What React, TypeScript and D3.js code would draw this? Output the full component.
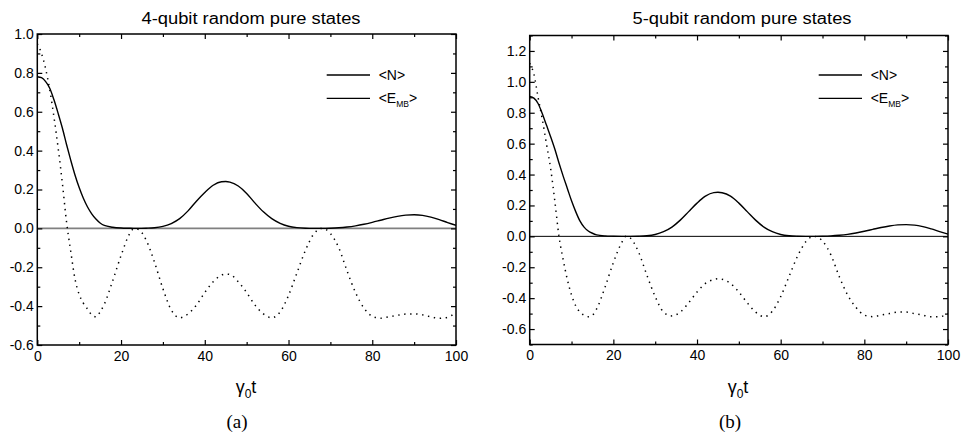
import React, { useEffect, useRef } from 'react';
import * as d3 from 'd3';

// time grid shared by all curves (gamma_0 t)
const times = [0, 1, 2, 3, 4, 5, 6, 7, 8, 9, 10, 11, 12, 13, 14, 15, 16, 18, 20, 22, 23, 24, 26, 28, 30, 32, 34, 36, 38, 40, 42, 44, 45, 46, 48, 50, 52, 54, 56, 58, 60, 62, 64, 66, 68, 70, 72, 74, 76, 78, 80, 82, 84, 86, 88, 90, 92, 94, 96, 98, 100];

// 4-qubit panel
const negativity4 = [0.78, 0.775, 0.755, 0.72, 0.66, 0.59, 0.515, 0.43, 0.35, 0.275, 0.21, 0.155, 0.11, 0.075, 0.048, 0.028, 0.015, 0.006, 0.002, 0.0005, 0, 0, 0.001, 0.003, 0.01, 0.025, 0.05, 0.09, 0.14, 0.185, 0.222, 0.24, 0.241, 0.238, 0.218, 0.18, 0.13, 0.085, 0.05, 0.026, 0.011, 0.004, 0.001, 0, 0, 0.001, 0.003, 0.007, 0.013, 0.021, 0.031, 0.042, 0.053, 0.062, 0.068, 0.07, 0.067, 0.058, 0.045, 0.03, 0.016];
const emb4 = [0.95, 0.9, 0.82, 0.71, 0.57, 0.41, 0.23, 0.03, -0.12, -0.26, -0.34, -0.385, -0.415, -0.445, -0.455, -0.43, -0.39, -0.27, -0.14, -0.03, -0.003, -0.005, -0.06, -0.175, -0.31, -0.42, -0.46, -0.44, -0.395, -0.33, -0.275, -0.24, -0.235, -0.237, -0.275, -0.33, -0.395, -0.44, -0.46, -0.43, -0.345, -0.23, -0.115, -0.03, 0, -0.026, -0.1, -0.22, -0.33, -0.41, -0.452, -0.462, -0.455, -0.447, -0.441, -0.44, -0.445, -0.455, -0.463, -0.458, -0.43];

// 5-qubit panel
const negativity5 = [0.905, 0.895, 0.86, 0.795, 0.72, 0.645, 0.565, 0.475, 0.39, 0.31, 0.23, 0.16, 0.1, 0.06, 0.035, 0.02, 0.01, 0.003, 0.001, 0, 0, 0, 0.001, 0.004, 0.012, 0.03, 0.06, 0.105, 0.16, 0.215, 0.26, 0.283, 0.285, 0.282, 0.26, 0.215, 0.16, 0.105, 0.06, 0.03, 0.012, 0.004, 0.001, 0, 0, 0.001, 0.003, 0.007, 0.013, 0.022, 0.033, 0.045, 0.057, 0.067, 0.074, 0.076, 0.073, 0.063, 0.048, 0.031, 0.015];
const emb5 = [1.12, 1.05, 0.9, 0.76, 0.6, 0.44, 0.23, 0.0, -0.15, -0.28, -0.38, -0.45, -0.49, -0.51, -0.52, -0.51, -0.47, -0.33, -0.17, -0.04, 0, -0.01, -0.1, -0.25, -0.39, -0.49, -0.515, -0.49, -0.43, -0.36, -0.305, -0.28, -0.275, -0.278, -0.305, -0.36, -0.43, -0.49, -0.52, -0.485, -0.39, -0.26, -0.13, -0.035, 0, -0.03, -0.12, -0.26, -0.38, -0.46, -0.51, -0.52, -0.51, -0.5, -0.49, -0.49, -0.5, -0.51, -0.52, -0.52, -0.5];

const xMajor = [0, 20, 40, 60, 80, 100];
const xMinor = [10, 30, 50, 70, 90];
const yMajor4 = [-0.6, -0.4, -0.2, 0, 0.2, 0.4, 0.6, 0.8, 1.0];
const yMinor4 = [-0.5, -0.3, -0.1, 0.1, 0.3, 0.5, 0.7, 0.9];
const yMajor5 = [-0.6, -0.4, -0.2, 0, 0.2, 0.4, 0.6, 0.8, 1.0, 1.2];
const yMinor5 = [-0.7, -0.5, -0.3, -0.1, 0.1, 0.3, 0.5, 0.7, 0.9, 1.1, 1.3];

const titles = ['4-qubit random pure states', '5-qubit random pure states'];
const captions = ['(a)', '(b)'];

const SANS = '"Liberation Sans", Arial, sans-serif';

const App = () => {
    const svgRef = useRef<SVGSVGElement>(null);

    useEffect(() => {
        const svg = d3.select(svgRef.current);
        svg.selectAll('*').remove();

        const panels = [
            { left: 37.3, right: 456, top: 34, bottom: 345, yDomain: [-0.6, 1.0], yMajor: yMajor4, yMinor: yMinor4, n: negativity4, e: emb4, zeroColor: '#808080', zeroWidth: 1.6, titleX: 251, capX: 237, labelX: 246 },
            { left: 529.7, right: 948, top: 35.5, bottom: 344.5, yDomain: [-0.7, 1.3], yMajor: yMajor5, yMinor: yMinor5, n: negativity5, e: emb5, zeroColor: '#000', zeroWidth: 1, titleX: 742, capX: 730, labelX: 738 }
        ];

        panels.forEach((p, i) => {
            const x = d3.scaleLinear().domain([0, 100]).range([p.left, p.right]);
            const y = d3.scaleLinear().domain(p.yDomain).range([p.bottom, p.top]);
            const g = svg.append('g');

            const clipId = `clip${i}`;
            g.append('clipPath').attr('id', clipId)
                .append('rect')
                .attr('x', p.left).attr('y', p.top)
                .attr('width', p.right - p.left).attr('height', p.bottom - p.top);

            // zero line
            g.append('line')
                .attr('x1', p.left).attr('x2', p.right)
                .attr('y1', y(0)).attr('y2', y(0))
                .attr('stroke', p.zeroColor)
                .attr('stroke-width', p.zeroWidth);

            const line = d3.line<number>()
                .x((_, k) => x(times[k]))
                .y(d => y(d))
                .curve(d3.curveMonotoneX);

            g.append('path')
                .attr('clip-path', `url(#${clipId})`)
                .attr('d', line(p.e))
                .attr('fill', 'none')
                .attr('stroke', '#000')
                .attr('stroke-width', 1.5)
                .attr('stroke-dasharray', '1.4 4.6');

            g.append('path')
                .attr('clip-path', `url(#${clipId})`)
                .attr('d', line(p.n))
                .attr('fill', 'none')
                .attr('stroke', '#000')
                .attr('stroke-width', 1.4);

            // axes: ticks pointing inward on all four sides
            const styleAxis = (sel, labels) => {
                sel.select('.domain').remove();
                sel.selectAll('line').attr('stroke', '#000').attr('stroke-width', 1.2);
                sel.selectAll('text')
                    .style('font-family', SANS)
                    .style('font-size', labels ? '14px' : '0px')
                    .attr('fill', '#000');
            };
            const fmt = (d: number) => d.toFixed(1);
            const xFmt = (d: number) => String(d);

            g.append('g').attr('transform', `translate(0,${p.bottom})`)
                .call(d3.axisBottom(x).tickValues(xMajor).tickSize(-5).tickPadding(6).tickFormat(xFmt))
                .call(s => styleAxis(s, true));
            g.append('g').attr('transform', `translate(0,${p.bottom})`)
                .call(d3.axisBottom(x).tickValues(xMinor).tickSize(-3).tickFormat(() => ''))
                .call(s => styleAxis(s, false));
            g.append('g').attr('transform', `translate(0,${p.top})`)
                .call(d3.axisTop(x).tickValues(xMajor).tickSize(-5).tickFormat(() => ''))
                .call(s => styleAxis(s, false));
            g.append('g').attr('transform', `translate(0,${p.top})`)
                .call(d3.axisTop(x).tickValues(xMinor).tickSize(-3).tickFormat(() => ''))
                .call(s => styleAxis(s, false));

            g.append('g').attr('transform', `translate(${p.left},0)`)
                .call(d3.axisLeft(y).tickValues(p.yMajor).tickSize(-5).tickPadding(3.5).tickFormat(d => fmt(d as number)))
                .call(s => styleAxis(s, true));
            g.append('g').attr('transform', `translate(${p.left},0)`)
                .call(d3.axisLeft(y).tickValues(p.yMinor).tickSize(-3).tickFormat(() => ''))
                .call(s => styleAxis(s, false));
            g.append('g').attr('transform', `translate(${p.right},0)`)
                .call(d3.axisRight(y).tickValues(p.yMajor).tickSize(-5).tickFormat(() => ''))
                .call(s => styleAxis(s, false));
            g.append('g').attr('transform', `translate(${p.right},0)`)
                .call(d3.axisRight(y).tickValues(p.yMinor).tickSize(-3).tickFormat(() => ''))
                .call(s => styleAxis(s, false));

            // frame
            g.append('rect')
                .attr('x', p.left).attr('y', p.top)
                .attr('width', p.right - p.left).attr('height', p.bottom - p.top)
                .attr('fill', 'none')
                .attr('stroke', '#000')
                .attr('stroke-width', 1.5);

            // title
            g.append('text')
                .attr('x', p.titleX).attr('y', 23.5)
                .attr('text-anchor', 'middle')
                .attr('textLength', 219)
                .attr('lengthAdjust', 'spacingAndGlyphs')
                .style('font-family', SANS)
                .style('font-size', '16px')
                .text(titles[i]);

            // legend
            const lx = p.right - 129.3;
            [75, 98.3].forEach(ly => {
                g.append('line')
                    .attr('x1', lx).attr('x2', lx + 43.3)
                    .attr('y1', ly).attr('y2', ly)
                    .attr('stroke', '#000').attr('stroke-width', 1.3);
            });
            g.append('text')
                .attr('x', lx + 52).attr('y', 80)
                .style('font-family', SANS).style('font-size', '14px')
                .text('<N>');
            const eText = g.append('text')
                .attr('x', lx + 52).attr('y', 103.3)
                .style('font-family', SANS).style('font-size', '14px');
            eText.append('tspan').text('<E');
            eText.append('tspan').attr('dy', 3.5).style('font-size', '8.5px').text('MB');
            eText.append('tspan').attr('dy', -3.5).text('>');

            // x axis label
            const xl = g.append('text')
                .attr('x', p.labelX).attr('y', 393)
                .attr('text-anchor', 'middle')
                .style('font-family', SANS).style('font-size', '18px');
            xl.append('tspan').text('γ');
            xl.append('tspan').attr('dy', 5).style('font-size', '12px').text('0');
            xl.append('tspan').attr('dy', -5).text('t');

            // caption
            g.append('text')
                .attr('x', p.capX).attr('y', 428)
                .attr('text-anchor', 'middle')
                .style('font-family', '"Liberation Serif", "DejaVu Serif", serif')
                .style('font-size', '19px')
                .text(captions[i]);
        });
    }, []);

    return (
        <svg
            ref={svgRef}
            width={968}
            height={439}
            style={{ position: 'absolute', left: 0, top: 0, background: '#fff' }}
        ></svg>
    );
};

export default App;
